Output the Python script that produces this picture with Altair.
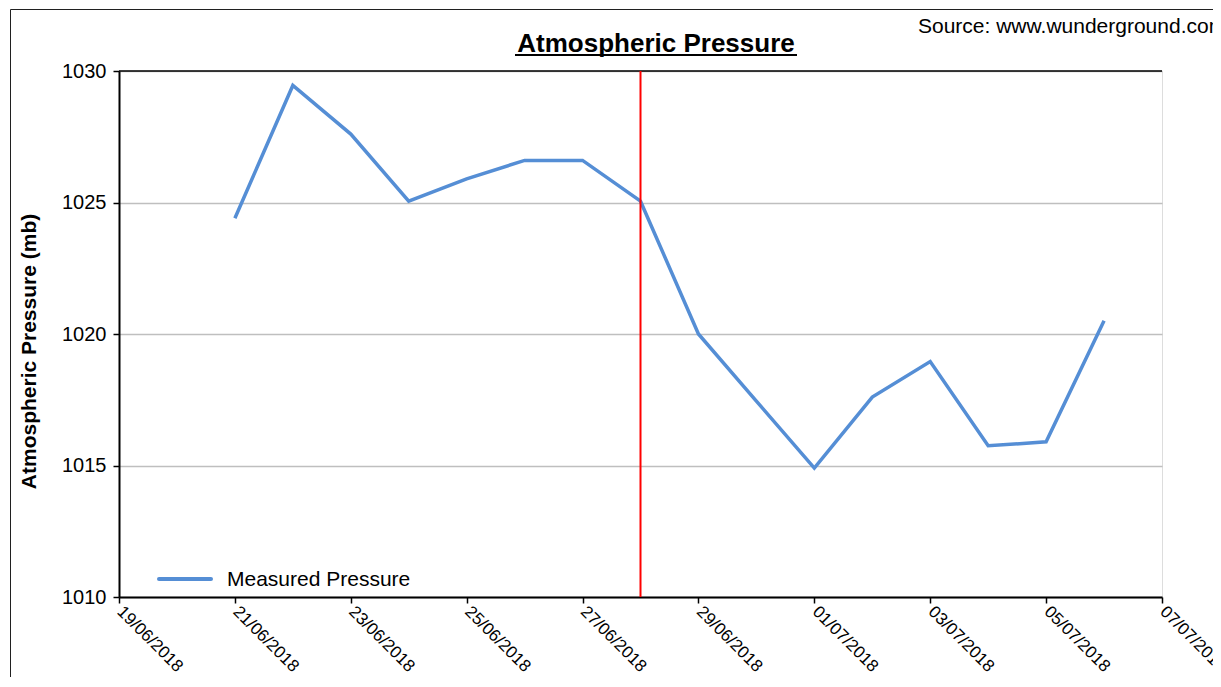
import altair as alt
import pandas as pd

# ---- data ----
dates = ["2018-06-21", "2018-06-22", "2018-06-23", "2018-06-24", "2018-06-25",
         "2018-06-26", "2018-06-27", "2018-06-28", "2018-06-29", "2018-06-30",
         "2018-07-01", "2018-07-02", "2018-07-03", "2018-07-04", "2018-07-05",
         "2018-07-06"]
pressure = [1024.4, 1029.45, 1027.6, 1025.05, 1025.9,
            1026.6, 1026.6, 1025.05, 1020.0, 1017.45,
            1014.9, 1017.6, 1018.95, 1015.75, 1015.9,
            1020.5]
event_date = ["2018-06-28"]
series_name = ["Measured Pressure"]
chart_title = ["Atmospheric Pressure"]
source_text = ["Source: www.wunderground.com"]
y_ticks = [1010, 1015, 1020, 1025, 1030]
x_tick_days = [(6, 19), (6, 21), (6, 23), (6, 25), (6, 27), (6, 29),
               (7, 1), (7, 3), (7, 5), (7, 7)]

df = pd.DataFrame({"date": dates, "pressure": pressure})
ev = pd.DataFrame({"date": event_date})
one = pd.DataFrame({"t": [""]})
title_df = pd.DataFrame({"t": chart_title})
src_df = pd.DataFrame({"t": source_text})
leg_df = pd.DataFrame({"t": series_name})

FONT = "Liberation Sans"
BLUE = "#558ed5"

x_vals = [alt.DateTime(year=2018, month=m, date=d, utc=True) for m, d in x_tick_days]
x_scale = alt.Scale(type="utc", domain=[x_vals[0], x_vals[-1]], nice=False)
y_scale = alt.Scale(domain=[1010, 1030], nice=False, zero=False)

x_axis = alt.Axis(values=x_vals, format="%d/%m/%Y", title=None,
                  labelAngle=45, labelAlign="left", labelBaseline="top",
                  labelPadding=0, labelOffset=6, labelFontSize=17, labelFont=FONT,
                  labelColor="#000",
                  tickSize=6, tickColor="#000", tickWidth=1.5,
                  domainColor="#000", domainWidth=2, grid=False,
                  labelOverlap=False, labelBound=False, labelFlush=False)

frame = alt.Chart(one).mark_rect(fillOpacity=0, stroke="#202020", strokeWidth=1, clip=False).encode(
    x=alt.value(-108.5), x2=alt.value(1300), y=alt.value(-61.5), y2=alt.value(900)
)

line = alt.Chart(df).mark_line(color=BLUE, strokeWidth=3.5).encode(
    x=alt.X("date:T", scale=x_scale, axis=x_axis),
    y=alt.Y("pressure:Q", scale=y_scale,
            axis=alt.Axis(values=y_ticks, format="d", title="Atmospheric Pressure (mb)",
                          titleFont=FONT, titleFontSize=21, titleFontWeight="bold",
                          titleColor="#000", titleX=-90, titleY=280, titleAngle=-90,
                          titleAlign="center", titleBaseline="middle",
                          labelFontSize=20, labelFont=FONT, labelColor="#000",
                          labelPadding=7, tickSize=6, tickColor="#000", tickWidth=1.5,
                          domainColor="#000", domainWidth=2,
                          grid=True, gridColor="#bfbfbf", gridWidth=1.5)),
)

top_rule = alt.Chart(one).mark_rule(color="#000", strokeWidth=1.5).encode(
    y=alt.datum(1030)
)

red_rule = alt.Chart(ev).mark_rule(color="#ff0000", strokeWidth=2).encode(
    x=alt.X("date:T", scale=x_scale, axis=x_axis)
)

title = alt.Chart(title_df).mark_text(font=FONT, fontSize=26, fontWeight="bold",
                                      align="center", baseline="alphabetic", color="#000").encode(
    x=alt.value(537), y=alt.value(-19), text="t:N"
)
underline = alt.Chart(one).mark_rule(color="#000", strokeWidth=2).encode(
    x=alt.value(396), x2=alt.value(678), y=alt.value(-16)
)
source = alt.Chart(src_df).mark_text(font=FONT, fontSize=21, align="left",
                                     baseline="alphabetic", color="#000").encode(
    x=alt.value(799), y=alt.value(-38), text="t:N"
)
leg_line = alt.Chart(one).mark_rule(color=BLUE, strokeWidth=4, strokeCap="round").encode(
    x=alt.value(40), x2=alt.value(92), y=alt.value(508)
)
leg_text = alt.Chart(leg_df).mark_text(font=FONT, fontSize=21, align="left",
                                       baseline="alphabetic", color="#000").encode(
    x=alt.value(108), y=alt.value(515), text="t:N"
)

chart = alt.layer(
    frame, line, top_rule, red_rule, title, underline, source, leg_line, leg_text
).properties(
    width=1043, height=526,
    autosize=alt.AutoSizeParams(type="none"),
    padding={"left": 111, "top": 63, "right": 51, "bottom": 80},
).configure_view(
    stroke="#808080", strokeWidth=1
).configure(background="white")

chart.save("out.html", embed_options={"renderer": "svg", "actions": False})
